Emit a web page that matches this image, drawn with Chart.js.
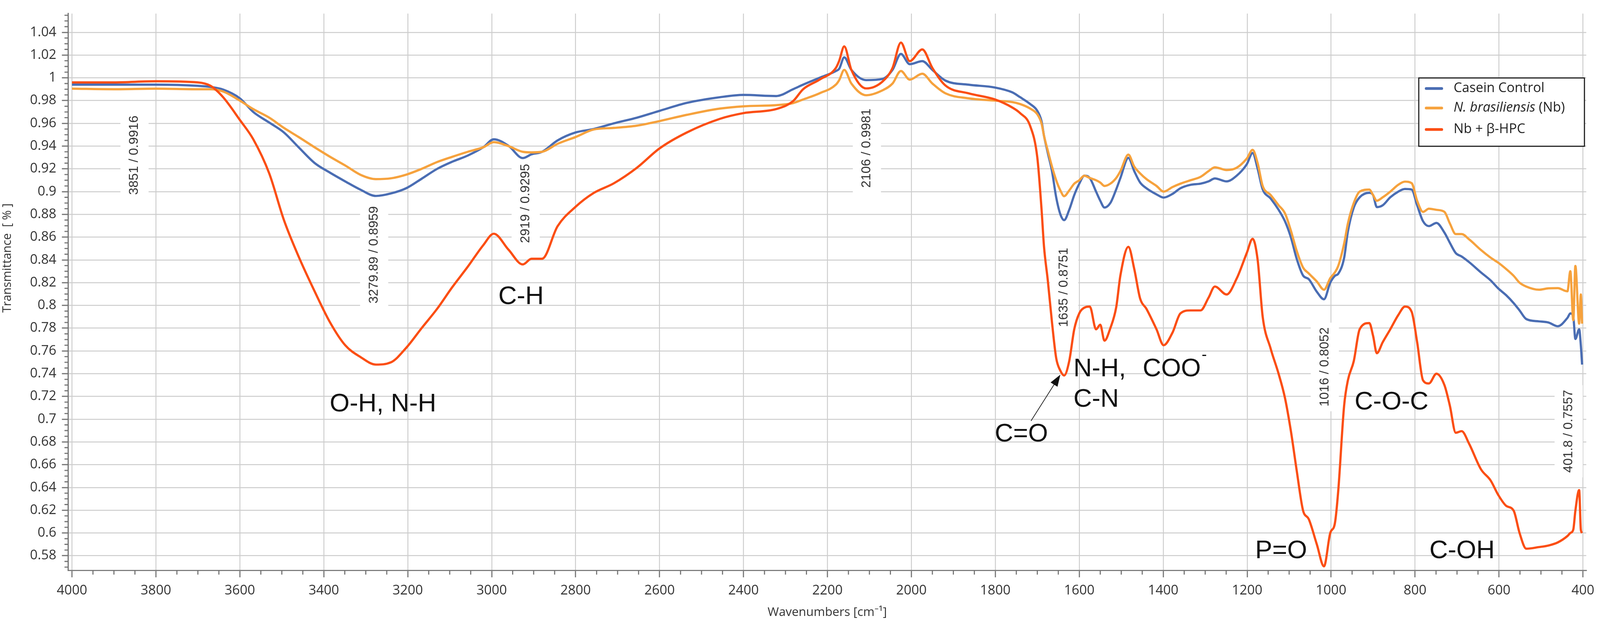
<!DOCTYPE html>
<html>
<head>
<meta charset="utf-8">
<title>FTIR spectra</title>
<script src="https://cdn.jsdelivr.net/npm/chart.js@4.4.1/dist/chart.umd.min.js"></script>
<style>
  html, body { margin: 0; padding: 0; background: #fff; overflow: hidden; }
  #wrap { position: fixed; left: 0; top: 0; width: 100vw; height: 100vh; }
</style>
</head>
<body>
<div id="wrap"><canvas id="ftir-chart"></canvas></div>
<script>
var wavenumbers = [
  4000, 3900, 3800, 3700, 3670, 3640, 3600, 3568, 3530, 3495, 3460, 3422, 3385, 3349,
  3312, 3276, 3240, 3203, 3167, 3130, 3094, 3057, 3020, 2995, 2960, 2926, 2905, 2880,
  2843, 2800, 2757, 2709, 2654, 2600, 2535, 2456, 2400, 2322, 2282, 2258, 2219, 2180,
  2172, 2160, 2143, 2108, 2069, 2045, 2025, 2004, 1974, 1950, 1919, 1864, 1801, 1760,
  1741, 1717, 1700, 1690, 1684, 1675, 1665, 1655, 1645, 1636, 1624, 1612, 1600, 1588,
  1575, 1560, 1550, 1540, 1526, 1512, 1502, 1483, 1469, 1455, 1440, 1416, 1399, 1378,
  1359, 1335, 1311, 1292, 1277, 1249, 1225, 1201, 1187, 1175, 1163, 1144, 1125, 1110,
  1096, 1082, 1067, 1053, 1034, 1017, 1002, 991,
  983, 969, 960, 946, 932, 909, 900, 891, 877, 859, 840, 824, 808, 795, 781, 767, 749,
  730, 717, 703, 689, 671, 643, 620, 602, 583, 565, 551, 535, 505, 482, 460, 437, 430,
  423, 418, 409, 405, 402
];

var caseinControl = [
  0.994, 0.994, 0.994, 0.993, 0.992, 0.9897, 0.982, 0.970, 0.9607, 0.952, 0.939, 0.9252, 0.9166, 0.909,
  0.9016, 0.8962, 0.8984, 0.9031, 0.9113, 0.920, 0.9263, 0.9317, 0.939, 0.946, 0.9403, 0.9295, 0.9328, 0.935,
  0.945, 0.952, 0.955, 0.960, 0.965, 0.971, 0.978, 0.983, 0.985, 0.984, 0.990, 0.994, 1.000, 1.006,
  1.008, 1.018, 1.007, 0.998, 0.999, 1.007, 1.021, 1.012, 1.0147, 1.007, 0.9976, 0.994, 0.9915, 0.9873,
  0.983, 0.977, 0.971, 0.962, 0.949, 0.934, 0.918, 0.895, 0.880, 0.875, 0.884, 0.897, 0.907, 0.914,
  0.912, 0.900, 0.892, 0.886, 0.890, 0.902, 0.912, 0.9297, 0.918, 0.908, 0.903, 0.8976, 0.8948, 0.898,
  0.903, 0.906, 0.907, 0.909, 0.9116, 0.909, 0.914, 0.924, 0.934, 0.920, 0.902, 0.894, 0.884, 0.874,
  0.860, 0.841, 0.8264, 0.823, 0.812, 0.8054, 0.820, 0.826,
  0.8278, 0.8417, 0.865, 0.886, 0.895, 0.899, 0.897, 0.8864, 0.888, 0.895, 0.900, 0.9023, 0.9018, 0.888, 0.874, 0.8697, 0.8725,
  0.864, 0.855, 0.846, 0.843, 0.838, 0.829, 0.822, 0.815, 0.809, 0.802, 0.7956, 0.788, 0.786, 0.785, 0.7817, 0.789, 0.793,
  0.790, 0.7705, 0.779, 0.765, 0.748
];

var nBrasiliensis = [
  0.9905, 0.990, 0.9905, 0.990, 0.990, 0.988, 0.980, 0.9725, 0.965, 0.956, 0.948, 0.939, 0.9306, 0.923,
  0.9147, 0.911, 0.9117, 0.915, 0.920, 0.926, 0.9306, 0.935, 0.939, 0.9435, 0.940, 0.935, 0.9345, 0.935,
  0.942, 0.948, 0.9546, 0.956, 0.958, 0.962, 0.9675, 0.973, 0.975, 0.976, 0.9778, 0.981, 0.9864, 0.994,
  0.998, 1.007, 0.995, 0.9847, 0.989, 0.995, 1.006, 0.9984, 1.0036, 0.995, 0.9864, 0.982, 0.980, 0.9787,
  0.977, 0.973, 0.968, 0.960, 0.949, 0.936, 0.922, 0.910, 0.901, 0.896, 0.901, 0.907, 0.910, 0.914,
  0.912, 0.910, 0.908, 0.905, 0.907, 0.912, 0.918, 0.9325, 0.922, 0.916, 0.911, 0.905, 0.900, 0.904,
  0.907, 0.910, 0.913, 0.918, 0.9214, 0.919, 0.921, 0.929, 0.9367, 0.925, 0.905, 0.897, 0.888, 0.881,
  0.866, 0.848, 0.8334, 0.828, 0.821, 0.8138, 0.824, 0.829,
  0.8347, 0.8543, 0.872, 0.890, 0.900, 0.9018, 0.897, 0.892, 0.895, 0.900, 0.906, 0.9088, 0.9074, 0.892, 0.8822, 0.885, 0.884,
  0.8822, 0.872, 0.8627, 0.8627, 0.858, 0.8487, 0.842, 0.8376, 0.832, 0.826, 0.820, 0.8166, 0.8138, 0.815, 0.8152, 0.8124, 0.830,
  0.787, 0.8347, 0.784, 0.8096, 0.784
];

var nbHpc = [
  0.996, 0.996, 0.997, 0.996, 0.993, 0.983, 0.963, 0.946, 0.916, 0.875, 0.843, 0.8125, 0.785, 0.765,
  0.7545, 0.748, 0.750, 0.763, 0.780, 0.797, 0.816, 0.834, 0.853, 0.863, 0.849, 0.836, 0.841, 0.841,
  0.8696, 0.8867, 0.8988, 0.9073, 0.921, 0.938, 0.952, 0.964, 0.969, 0.9726, 0.9795, 0.990, 0.9984, 1.0087,
  1.015, 1.0276, 1.007, 0.9907, 0.9967, 1.0087, 1.031, 1.0147, 1.025, 1.0087, 0.9933, 0.9864, 0.981, 0.974,
  0.969, 0.9577, 0.930, 0.885, 0.8515, 0.822, 0.785, 0.7537, 0.7426, 0.7384, 0.751, 0.779, 0.793, 0.798,
  0.799, 0.779, 0.783, 0.769, 0.780, 0.7984, 0.8264, 0.8515, 0.832, 0.806, 0.797, 0.779, 0.765, 0.776,
  0.793, 0.7956, 0.7956, 0.8068, 0.8166, 0.8096, 0.8236, 0.846, 0.8585, 0.840, 0.790, 0.762, 0.7398, 0.7188,
  0.690, 0.655, 0.620, 0.612, 0.590, 0.5707, 0.600, 0.6085,
  0.637, 0.7118, 0.7342, 0.751, 0.779, 0.7845, 0.7733, 0.758, 0.7677, 0.779, 0.7915, 0.799, 0.7943, 0.7677, 0.7342, 0.7314, 0.740,
  0.730, 0.7118, 0.6881, 0.6895, 0.6783, 0.656, 0.6462, 0.6336, 0.6239, 0.6196, 0.600, 0.5862, 0.5876, 0.589, 0.5917, 0.5973, 0.600,
  0.603, 0.6196, 0.6377, 0.603, 0.600
];

var xTicks = [4000, 3800, 3600, 3400, 3200, 3000, 2800, 2600, 2400, 2200, 2000, 1800, 1600, 1400, 1200, 1000, 800, 600, 400];
var yTicks = [1.04, 1.02, 1, 0.98, 0.96, 0.94, 0.92, 0.9, 0.88, 0.86, 0.84, 0.82, 0.8, 0.78, 0.76, 0.74, 0.72, 0.7,
  0.68, 0.66, 0.64, 0.62, 0.6, 0.58];

var seriesNames = ['Casein Control', 'N. brasiliensis (Nb)', 'Nb + \u03b2-HPC'];
var seriesColors = ['#4a6db3', '#f6a23d', '#fb4e14'];

// peak readouts written beside the curves (rotated)
var peakLabels = [
  { text: '3851 / 0.9916', wn: 3851, t: 0.932 },
  { text: '3279.89 / 0.8959', wn: 3280, t: 0.8444 },
  { text: '2919 / 0.9295', wn: 2919, t: 0.8896 },
  { text: '2106 / 0.9981', wn: 2106, t: 0.9382 },
  { text: '1635 / 0.8751', wn: 1636, t: 0.8158 },
  { text: '1016 / 0.8052', wn: 1015, t: 0.7459 },
  { text: '401.8 / 0.7557', wn: 434, t: 0.6894 }
];

// band assignments
var bandLabels = [
  { text: 'O-H, N-H', wn: 3259, t: 0.7131, align: 'center' },
  { text: 'C-H', wn: 2930, t: 0.8072, align: 'center' },
  { text: 'N-H,', wn: 1614, t: 0.7439, align: 'left' },
  { text: 'C-N', wn: 1614, t: 0.7173, align: 'left' },
  { text: 'COO', wn: 1449, t: 0.7439, align: 'left', sup: '-' },
  { text: 'C=O', wn: 1738, t: 0.6867, align: 'center' },
  { text: 'P=O', wn: 1119, t: 0.5839, align: 'center' },
  { text: 'C-O-C', wn: 856, t: 0.7146, align: 'center' },
  { text: 'C-OH', wn: 688, t: 0.5842, align: 'center' }
];

var arrowFrom = { wn: 1715, t: 0.6985 };
var arrowTo = { wn: 1645, t: 0.7392 };

var tickColor = '#747474';
var labelFont = '"Open Sans", "Noto Sans", sans-serif';
var markFont = '"Liberation Sans", Arial, sans-serif';

// the layout was measured on a 4317 x 1596 picture; map it onto the real viewport
var SX = (window.innerWidth || 4317) / 4317;
var SY = (window.innerHeight || 1596) / 1596;
function ux(n) { return n * SX; }
function uy(n) { return n * SY; }
function uf(n) { return n * SX; }

function points(values) {
  return wavenumbers.map(function (w, i) { return { x: w, y: values[i] }; });
}

function fixedTicks(values) {
  return function (scale) {
    scale.ticks = values.map(function (v) { return { value: v }; });
  };
}

var decorations = {
  id: 'decorations',
  beforeDatasetsDraw: function (chart) {
    var ctx = chart.ctx;
    var xs = chart.scales.x, ys = chart.scales.y;
    var area = chart.chartArea;
    ctx.save();

    // minor ticks
    ctx.strokeStyle = tickColor;
    ctx.lineWidth = ux(3);
    ctx.beginPath();
    for (var w = 400; w <= 4000; w += 50) {
      if (w % 200 === 0) continue;
      var px = xs.getPixelForValue(w);
      ctx.moveTo(px, area.bottom);
      ctx.lineTo(px, area.bottom + uy(11));
    }
    for (var k = 114; k <= 211; k++) {
      var v = k * 0.005;
      if (k % 4 === 0 || v < ys.min || v > ys.max) continue;
      var py = ys.getPixelForValue(v);
      ctx.moveTo(area.left - ux(10), py);
      ctx.lineTo(area.left, py);
    }
    ctx.stroke();

    // peak readouts on white boxes
    ctx.font = uf(35) + 'px ' + markFont;
    peakLabels.forEach(function (p) {
      var len = ctx.measureText(p.text).width;
      var cx = xs.getPixelForValue(p.wn), cy = ys.getPixelForValue(p.t);
      ctx.fillStyle = '#ffffff';
      ctx.fillRect(cx - ux(38), cy - len / 2 - uy(12), ux(76), len + uy(24));
      ctx.save();
      ctx.translate(cx, cy);
      ctx.rotate(-Math.PI / 2);
      ctx.fillStyle = '#333333';
      ctx.textAlign = 'center';
      ctx.textBaseline = 'middle';
      ctx.fillText(p.text, 0, 0);
      ctx.restore();
    });
    ctx.restore();
  },
  afterDatasetsDraw: function (chart) {
    var ctx = chart.ctx;
    var xs = chart.scales.x, ys = chart.scales.y;
    var big = uf(69) + 'px ' + markFont;
    ctx.save();
    ctx.fillStyle = '#111111';
    ctx.textBaseline = 'middle';
    ctx.font = big;
    bandLabels.forEach(function (b) {
      var bx = xs.getPixelForValue(b.wn), by = ys.getPixelForValue(b.t);
      ctx.textAlign = b.align;
      ctx.fillText(b.text, bx, by);
      if (b.sup) {
        var wdt = ctx.measureText(b.text).width;
        ctx.font = uf(42) + 'px ' + markFont;
        ctx.textAlign = 'left';
        ctx.fillText(b.sup, bx + wdt + ux(2), by - uy(36));
        ctx.font = big;
      }
    });

    // arrow pointing at the C=O band
    var x1 = xs.getPixelForValue(arrowFrom.wn), y1 = ys.getPixelForValue(arrowFrom.t);
    var x2 = xs.getPixelForValue(arrowTo.wn), y2 = ys.getPixelForValue(arrowTo.t);
    var ang = Math.atan2(y2 - y1, x2 - x1);
    var c = Math.cos(ang), s = Math.sin(ang);
    ctx.strokeStyle = '#222222';
    ctx.lineWidth = ux(2);
    ctx.beginPath();
    ctx.moveTo(x1, y1);
    ctx.lineTo(x2 - ux(20) * c, y2 - ux(20) * s);
    ctx.stroke();
    ctx.fillStyle = '#111111';
    ctx.beginPath();
    ctx.moveTo(x2, y2);
    ctx.lineTo(x2 - ux(32) * c + ux(11) * s, y2 - ux(32) * s - ux(11) * c);
    ctx.lineTo(x2 - ux(32) * c - ux(11) * s, y2 - ux(32) * s + ux(11) * c);
    ctx.closePath();
    ctx.fill();
    ctx.restore();
  },
  afterDraw: function (chart) {
    var ctx = chart.ctx;
    var area = chart.chartArea;
    ctx.save();

    // y axis title
    ctx.translate(ux(20), uy(661));
    ctx.rotate(-Math.PI / 2);
    ctx.fillStyle = '#333333';
    ctx.font = uf(32) + 'px ' + labelFont;
    ctx.textAlign = 'center';
    ctx.textBaseline = 'middle';
    ctx.fillText('Transmittance  [ % ]', 0, 0);
    ctx.restore();

    // legend box
    ctx.save();
    var bx = area.right - ux(452), by = area.top + uy(165), bw = ux(447), bh = uy(175);
    ctx.fillStyle = '#ffffff';
    ctx.fillRect(bx, by, bw, bh);
    ctx.strokeStyle = '#1a1a1a';
    ctx.lineWidth = ux(3);
    ctx.strokeRect(bx, by, bw, bh);
    var rows = [by + uy(27), by + uy(77), by + uy(132)];
    ctx.lineCap = 'round';
    ctx.lineWidth = uy(7);
    ctx.textBaseline = 'middle';
    ctx.textAlign = 'left';
    for (var i = 0; i < 3; i++) {
      ctx.strokeStyle = seriesColors[i];
      ctx.beginPath();
      ctx.moveTo(bx + ux(20), rows[i]);
      ctx.lineTo(bx + ux(62), rows[i]);
      ctx.stroke();
    }
    var tx = bx + ux(94);
    ctx.fillStyle = '#222222';
    ctx.font = uf(36) + 'px ' + labelFont;
    ctx.fillText(seriesNames[0], tx, rows[0]);
    ctx.font = 'italic ' + uf(36) + 'px ' + labelFont;
    var italicPart = 'N. brasiliensis';
    ctx.fillText(italicPart, tx, rows[1]);
    var iw = ctx.measureText(italicPart + ' ').width;
    ctx.font = uf(36) + 'px ' + labelFont;
    ctx.fillText(seriesNames[1].slice(italicPart.length + 1), tx + iw, rows[1]);
    ctx.fillText(seriesNames[2], tx, rows[2]);
    ctx.restore();
  }
};

var canvas = document.getElementById('ftir-chart');
var ctx = canvas.getContext('2d');

var chart = new Chart(ctx, {
  type: 'line',
  data: {
    datasets: [
      { label: seriesNames[0], data: points(caseinControl), borderColor: seriesColors[0], order: 2 },
      { label: seriesNames[1], data: points(nBrasiliensis), borderColor: seriesColors[1], order: 1 },
      { label: seriesNames[2], data: points(nbHpc), borderColor: seriesColors[2], order: 0 }
    ]
  },
  options: {
    responsive: true,
    maintainAspectRatio: false,
    animation: false,
    layout: { padding: { left: 0, right: ux(37), top: uy(6), bottom: 0 } },
    elements: {
      line: { borderWidth: ux(6), fill: false, cubicInterpolationMode: 'monotone' },
      point: { radius: 0, hoverRadius: 0 }
    },
    plugins: {
      legend: { display: false },
      tooltip: { enabled: false }
    },
    scales: {
      x: {
        type: 'linear',
        reverse: true,
        min: 392,
        max: 4009,
        afterBuildTicks: fixedTicks(xTicks),
        ticks: {
          autoSkip: false,
          maxRotation: 0,
          padding: uy(14),
          color: '#333333',
          font: { family: labelFont, size: uf(36) },
          callback: function (v) { return String(v); }
        },
        grid: { color: '#cdcdcd', lineWidth: ux(2.5), tickLength: uy(18), tickColor: tickColor, tickWidth: ux(3) },
        border: { color: tickColor, width: ux(3) },
        title: {
          display: true,
          text: 'Wavenumbers [cm\u207b\u00b9]',
          color: '#333333',
          font: { family: labelFont, size: uf(33) },
          padding: { top: 0, bottom: uy(8) }
        },
        afterFit: function (scale) { scale.height = uy(135); }
      },
      y: {
        min: 0.5672,
        max: 1.0565,
        afterBuildTicks: fixedTicks(yTicks),
        ticks: {
          autoSkip: false,
          padding: ux(15),
          color: '#333333',
          font: { family: labelFont, size: uf(36) },
          callback: function (v) { return String(v); }
        },
        grid: { color: '#cdcdcd', lineWidth: uy(2.5), tickLength: ux(17), tickColor: tickColor, tickWidth: uy(3) },
        border: { color: tickColor, width: uy(3) },
        afterFit: function (scale) { scale.width = ux(184); }
      }
    }
  },
  plugins: [decorations]
});
</script>
</body>
</html>
